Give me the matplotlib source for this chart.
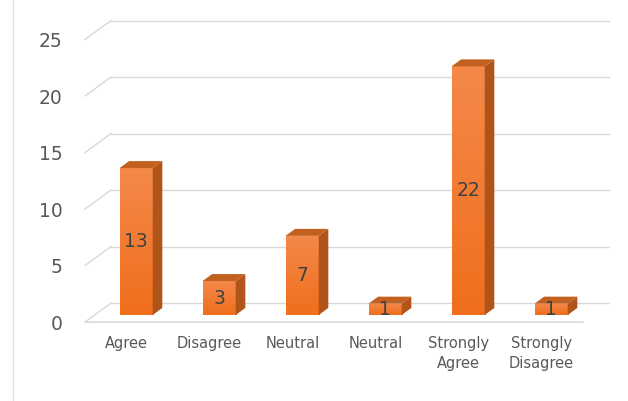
import matplotlib.pyplot as plt
import numpy as np
from matplotlib.patches import Polygon
from matplotlib.lines import Line2D
from matplotlib.colors import LinearSegmentedColormap

categories = ["Agree", "Disagree", "Neutral", "Neutral", "Strongly\nAgree", "Strongly\nDisagree"]
values = [13, 3, 7, 1, 22, 1]
yticks = [0, 5, 10, 15, 20, 25]

# pseudo-3D geometry (in data units)
DX, DY = 0.313, 1.68      # full depth of the floor / walls
F0, F1 = 0.37, 0.74       # bar depth band (fraction of full depth)
W = 0.40                  # bar width

front_col = "#F47A2C"
side_col = "#B1541A"
top_col = "#C2611F"
grid_col = "#D9D9D9"
text_col = "#595959"

fig = plt.figure(figsize=(6.28, 4.01), dpi=100)
ax = fig.add_axes([85 / 628, 79 / 401, 498 / 628, 322 / 401])
n = len(values)
ax.set_xlim(-0.5, n - 0.5)
ax.set_ylim(0, 28.5)
for s in ax.spines.values():
    s.set_visible(False)

# walls / gridlines
for t in yticks:
    ax.plot([-0.5, -0.5 + DX], [t, t + DY], color=grid_col, lw=1, clip_on=False, zorder=1)
    ax.plot([-0.5 + DX, n - 0.5 + DX], [t + DY, t + DY], color=grid_col, lw=1,
            clip_on=False, zorder=1)
# floor front edge
ax.plot([-0.5, n - 0.5], [0, 0], color="#D5D9E0", lw=1.2, clip_on=False, zorder=2)

ox, oy = F0 * DX, F0 * DY
d, dd = (F1 - F0) * DX, (F1 - F0) * DY
x = np.arange(n) + ox
bars = ax.bar(x, values, W, bottom=oy, color=front_col, zorder=3, clip_on=False)

# gradient on front faces
grad = np.linspace(0, 1, 256).reshape(-1, 1)
cmap = LinearSegmentedColormap.from_list("o", ["#F06E1C", "#F4894A"])
for b in bars:
    x0, y0 = b.get_x(), b.get_y()
    im = ax.imshow(grad, cmap=cmap, origin="lower", aspect="auto",
                   extent=[x0, x0 + b.get_width(), y0, y0 + b.get_height()],
                   zorder=3.1, clip_on=True)
    im.set_clip_path(b)

for xi, v in zip(x, values):
    x0, x1 = xi - W / 2, xi + W / 2
    side = Polygon([(x1, oy), (x1 + d, oy + dd), (x1 + d, oy + v + dd), (x1, oy + v)],
                   closed=True, facecolor=side_col, edgecolor="none", zorder=3.2, clip_on=False)
    top = Polygon([(x0, oy + v), (x0 + d, oy + v + dd), (x1 + d, oy + v + dd), (x1, oy + v)],
                  closed=True, facecolor=top_col, edgecolor="none", zorder=3.2, clip_on=False)
    ax.add_patch(side)
    ax.add_patch(top)
    ax.text(xi, oy + v / 2, str(v), ha="center", va="center", fontsize=13.5,
            color="#404040", zorder=4)

ax.set_xlim(-0.5, n - 0.5)
ax.set_ylim(0, 28.5)
ax.set_yticks(yticks)
ax.set_yticklabels([str(t) for t in yticks], fontsize=13.5, color=text_col)
ax.set_xticks(np.arange(n))
ax.set_xticklabels(categories, fontsize=10.5, color=text_col, linespacing=1.45)
ax.tick_params(axis="y", length=0, pad=16)
ax.tick_params(axis="x", length=0, pad=10)

fig.add_artist(Line2D([13 / 628, 13 / 628], [0, 1], transform=fig.transFigure,
                      color="#DDDDDD", lw=1))

fig.savefig("out.png", dpi=100)
